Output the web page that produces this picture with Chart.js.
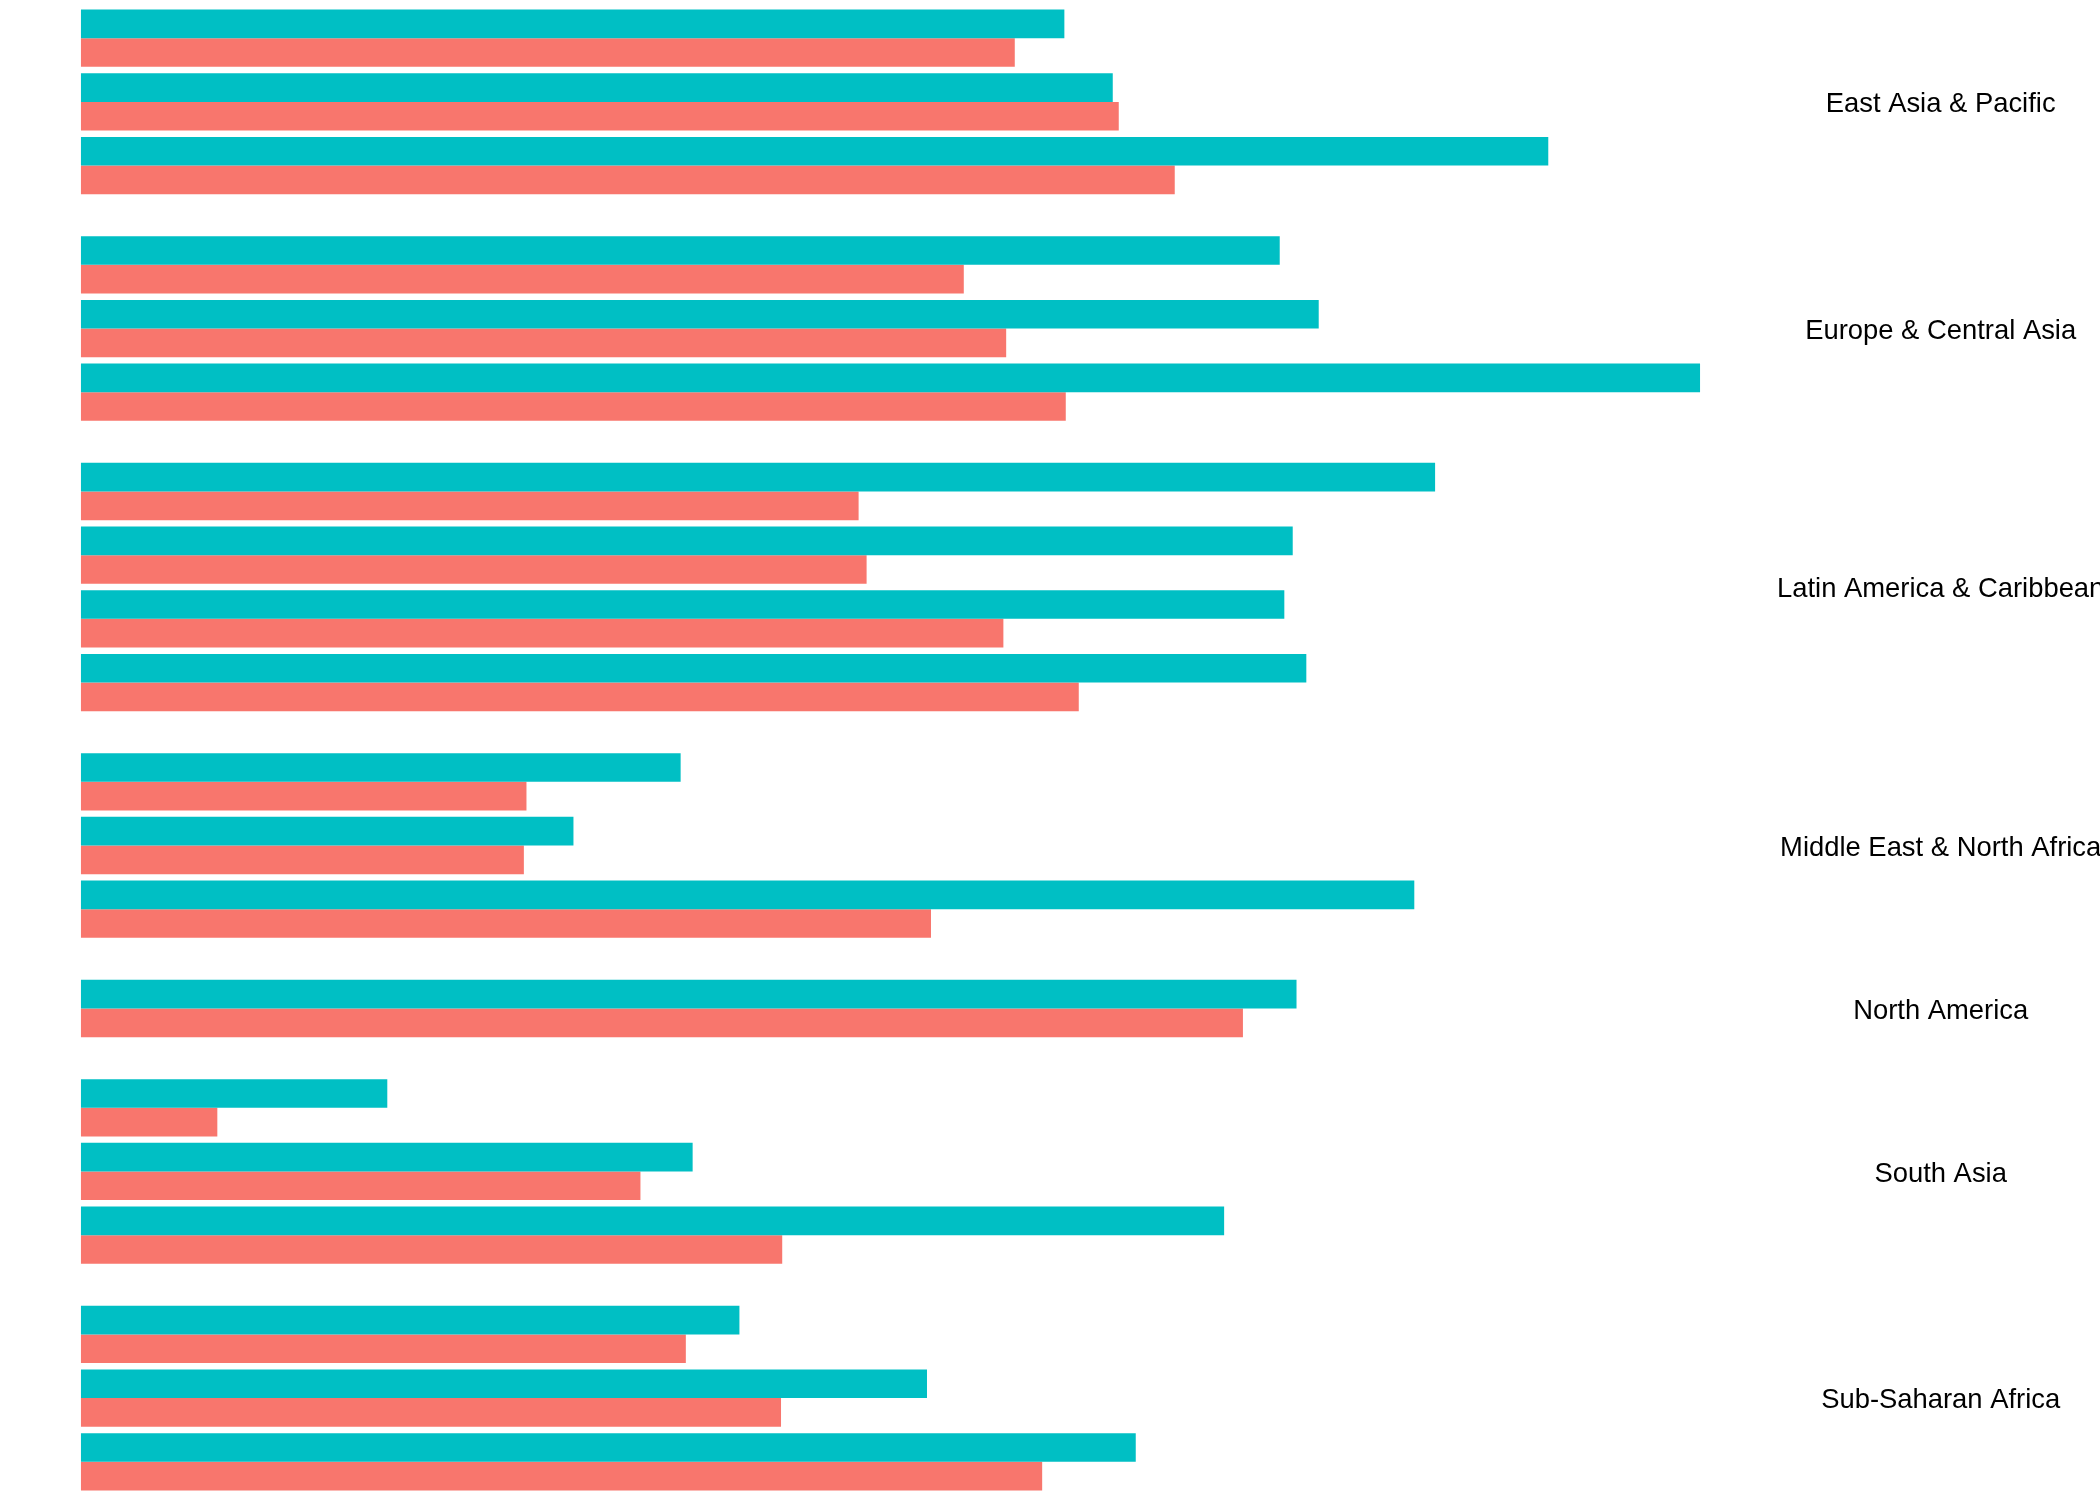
<!DOCTYPE html>
<html>
<head>
<meta charset="utf-8">
<script src="https://cdn.jsdelivr.net/npm/chart.js@4.4.1/dist/chart.umd.min.js"></script>
<style>
  html, body { margin: 0; padding: 0; background: #ffffff; }
  #wrap { width: 2100px; height: 1500px; position: relative; }
</style>
</head>
<body>
<div id="wrap"><canvas id="c" width="2100" height="1500"></canvas></div>
<script>
// ---- Data ----
const regions = [
  "East Asia & Pacific",
  "Europe & Central Asia",
  "Latin America & Caribbean",
  "Middle East & North Africa",
  "North America",
  "South Asia",
  "Sub-Saharan Africa"
];

const subgroups = [
  ["Lower middle income", "Upper middle income", "High income"],
  ["Lower middle income", "Upper middle income", "High income"],
  ["Low income", "Lower middle income", "Upper middle income", "High income"],
  ["Lower middle income", "Upper middle income", "High income"],
  ["High income"],
  ["Low income", "Lower middle income", "Upper middle income"],
  ["Low income", "Lower middle income", "Upper middle income"]
];

// teal series (upper bar of each pair)
const seriesB = [
  [49.18, 51.60, 73.38],
  [59.95, 61.90, 80.97],
  [67.72, 60.60, 60.18, 61.28],
  [29.99, 24.63, 66.68],
  [60.79],
  [15.32, 30.59, 57.17],
  [32.93, 42.31, 52.75]
];

// salmon series (lower bar of each pair)
const seriesA = [
  [46.70, 51.90, 54.70],
  [44.15, 46.27, 49.25],
  [38.89, 39.29, 46.13, 49.90],
  [22.28, 22.15, 42.51],
  [58.11],
  [6.82, 27.98, 35.07],
  [30.25, 35.01, 48.07]
];

const seriesNames = ["Group 2", "Group 1"];
const colors = ["#00BFC4", "#F8766D"];

// ---- Layout helpers (facet-like spacing on a linear index axis) ----
const GROUP_GAP = 0.5595;   // extra space between regions, in pair units
const EXPAND = 0.6;         // discrete-axis expansion at both ends
const LABEL_NUDGE = 0.04;   // small optical nudge so label caps sit on the group centre
const PANEL_W = 1781;       // width of the data panel (px)
const AXIS_W = 330;         // width reserved for the region labels (px)
const PLOT_W = 2100 - AXIS_W;

const slots = [];
const centers = [];
let k = 0;
regions.forEach((r, g) => {
  const first = k + g * GROUP_GAP;
  subgroups[g].forEach((s, i) => {
    slots.push({ g, i, pos: k + g * GROUP_GAP, label: r + " – " + s });
    k++;
  });
  const last = (k - 1) + g * GROUP_GAP;
  centers.push((first + last) / 2);
});
const lastPos = slots[slots.length - 1].pos;

const allVals = seriesA.flat().concat(seriesB.flat());
const vMax = Math.max(...allVals);
const xMin = -0.05 * vMax;
const xMax = xMin + 1.1 * vMax * (PLOT_W / PANEL_W);

const dsB = slots.map(s => ({ x: seriesB[s.g][s.i], y: s.pos }));
const dsA = slots.map(s => ({ x: seriesA[s.g][s.i], y: s.pos }));

new Chart(document.getElementById("c"), {
  type: "bar",
  data: {
    datasets: [
      { label: seriesNames[0], data: dsB, backgroundColor: colors[0], borderWidth: 0 },
      { label: seriesNames[1], data: dsA, backgroundColor: colors[1], borderWidth: 0 }
    ]
  },
  options: {
    responsive: false,
    animation: false,
    devicePixelRatio: 1,
    indexAxis: "y",
    layout: { padding: { left: 0, right: 0, top: 0, bottom: 0 } },
    datasets: { bar: { categoryPercentage: 0.9, barPercentage: 1.0 } },
    plugins: {
      legend: { display: false },
      title: { display: false },
      tooltip: {
        callbacks: {
          title: (items) => {
            const p = items[0].raw.y;
            const s = slots.find(o => o.pos === p);
            return s ? s.label : "";
          }
        }
      }
    },
    scales: {
      x: {
        type: "linear",
        display: false,
        min: xMin,
        max: xMax
      },
      y: {
        type: "linear",
        position: "right",
        reverse: true,
        offset: false,
        bounds: "data",
        min: -EXPAND,
        max: lastPos + EXPAND,
        grid: { display: false, drawTicks: false, offset: false },
        border: { display: false },
        afterBuildTicks: (scale) => {
          scale.ticks = centers.map(v => ({ value: v + LABEL_NUDGE }));
        },
        afterFit: (scale) => {
          scale.width = AXIS_W;
          scale.paddingTop = 0;
          scale.paddingBottom = 0;
        },
        ticks: {
          autoSkip: false,
          padding: 7,
          crossAlign: "center",
          color: "#000000",
          font: { family: "'Liberation Sans', Arial, Helvetica, sans-serif", size: 27.4 },
          callback: (value, index) => regions[index]
        }
      }
    }
  }
});
</script>
</body>
</html>
